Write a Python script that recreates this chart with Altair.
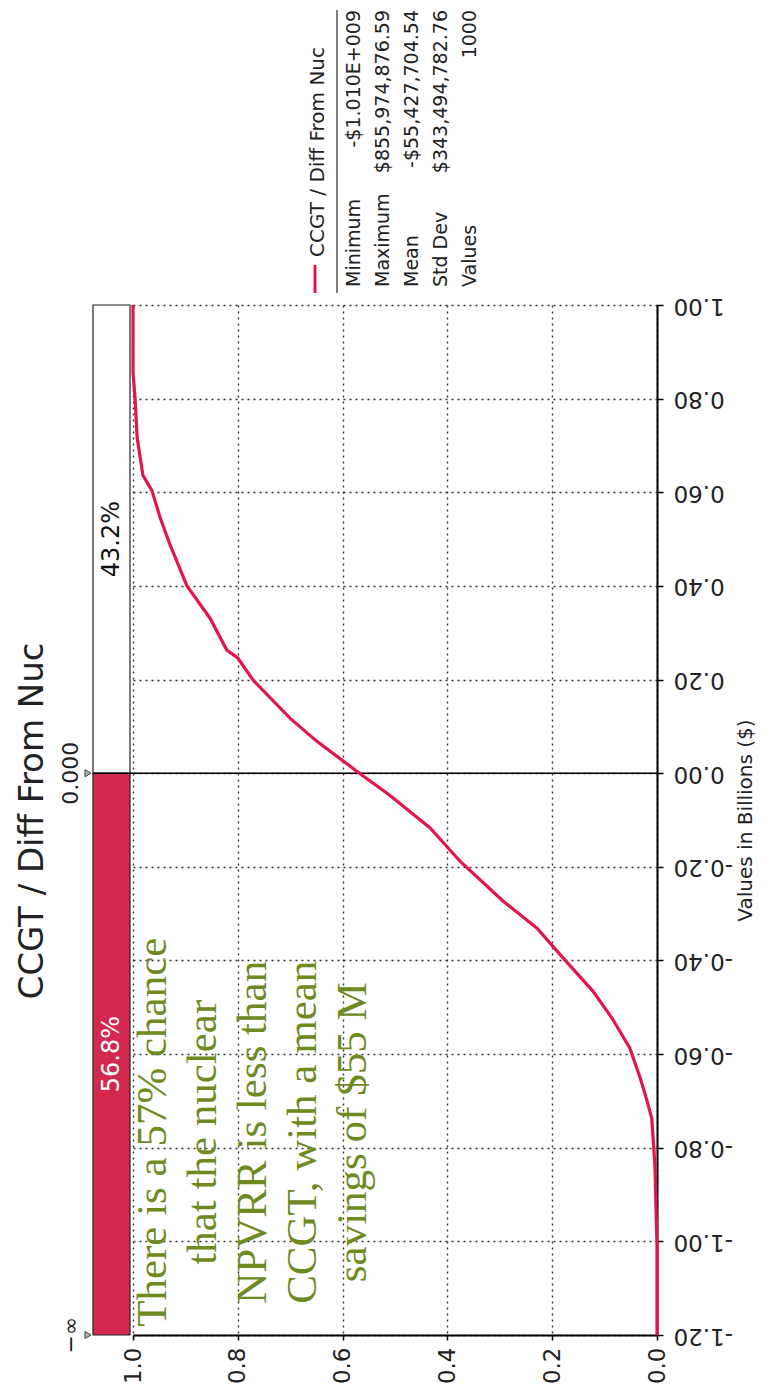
import altair as alt
import pandas as pd

# ---- data ----
# cumulative curve: value (billions $) and cumulative probability
cum_value = [-1.20, -1.01, -0.837, -0.737, -0.70, -0.651, -0.587, -0.523, -0.466,
             -0.395, -0.331, -0.273, -0.188, -0.117, -0.047, 0.0, 0.068, 0.117,
             0.199, 0.246, 0.263, 0.331, 0.40, 0.487, 0.545, 0.604, 0.636, 0.716,
             0.80, 0.856, 1.00]
cum_prob = [0.0, 0.0, 0.004, 0.010, 0.019, 0.032, 0.052, 0.086, 0.122,
            0.179, 0.229, 0.294, 0.376, 0.433, 0.51, 0.568, 0.649, 0.700,
            0.771, 0.80, 0.821, 0.853, 0.897, 0.929, 0.948, 0.964, 0.981, 0.992,
            0.996, 1.0, 1.0]

prob_ticks = [0.0, 0.2, 0.4, 0.6, 0.8, 1.0]
value_ticks = [-1.2, -1.0, -0.8, -0.6, -0.4, -0.2, 0.0, 0.2, 0.4, 0.6, 0.8, 1.0]

delim_lo = [-1.2, 0.0]
delim_hi = [0.0, 1.0]
delim_pct = ["56.8%", "43.2%"]
delim_fill = ["#d3284f", "#ffffff"]
delim_text_color = ["#ffffff", "#111111"]

marker_values = [-1.2, 0.0]
marker_labels = ["\u2212\u221e", "0.000"]

chart_title = "CCGT / Diff From Nuc"
axis_title = "Values in Billions ($)"
legend_name = "CCGT / Diff From Nuc"
stat_labels = ["Minimum", "Maximum", "Mean", "Std Dev", "Values"]
stat_values = ["-$1.010E+009", "$855,974,876.59", "-$55,427,704.54",
               "$343,494,782.76", "1000"]

note_lines = ["There is a 57% chance", "that the nuclear", "NPVRR is less than",
              "CCGT, with a mean", "savings of $55 M"]
note_prob = [0.962]
note_value = [-0.767]

LINE_RED = "#e3164b"
FONT = "DejaVu Sans"
W, H = 524, 1030

curve_df = pd.DataFrame({"value": cum_value, "prob": cum_prob})
delim_df = pd.DataFrame({"lo": delim_lo, "hi": delim_hi, "pct": delim_pct,
                         "fill": delim_fill, "tc": delim_text_color})
marker_df = pd.DataFrame({"v": marker_values, "lab": marker_labels})
zero_df = pd.DataFrame({"v": [0.0]})
one_df = pd.DataFrame({"k": [0]})
note_df = pd.DataFrame({"p": note_prob, "v": note_value})

xs = alt.Scale(domain=[0, 1], reverse=True, nice=False, zero=False)
ys = alt.Scale(domain=[-1.2, 1.0], nice=False, zero=False)

x_axis = alt.Axis(
    orient="bottom", values=prob_ticks, format=".1f", title="",
    labelAngle=270, labelAlign="right", labelBaseline="middle", labelPadding=7,
    labelFontSize=23, labelColor="#222", labelFont=FONT,
    tickSize=5, tickColor="black", tickWidth=1.5,
    domainColor="black", domainWidth=2,
    grid=True, gridColor="#333", gridDash=[2, 4], gridWidth=1.4)
y_axis = alt.Axis(
    orient="right", values=value_ticks,
    labelExpr="(datum.value < -0.0001 ? '-' : '') + format(abs(datum.value), '.2f')",
    labelAngle=180, labelAlign="right", labelBaseline="middle", labelPadding=10,
    labelFontSize=23, labelColor="#222", labelFont=FONT,
    tickSize=6, tickColor="black", tickWidth=1.5,
    domainColor="black", domainWidth=2,
    grid=True, gridColor="#333", gridDash=[2, 4], gridWidth=1.4,
    title=axis_title, titleAngle=270, titleBaseline="top", titlePadding=3,
    titleFontSize=20, titleFontWeight="normal", titleFont=FONT, titleColor="#222")


def Y(field):
    return alt.Y(field, scale=ys, axis=y_axis)


curve = alt.Chart(curve_df).mark_line(color=LINE_RED, strokeWidth=3.2).encode(
    x=alt.X("prob:Q", scale=xs, axis=x_axis),
    y=Y("value:Q"),
    order="value:Q")

zero_rule = alt.Chart(zero_df).mark_rule(color="black", strokeWidth=1.5).encode(
    y=Y("v:Q"), x=alt.value(-40), x2=alt.value(W))

delim_bars = alt.Chart(delim_df).mark_rect(stroke="#222", strokeWidth=1.2).encode(
    x=alt.value(-40), x2=alt.value(-3),
    y=Y("lo:Q"), y2="hi:Q",
    fill=alt.Fill("fill:N", scale=None))

delim_text = alt.Chart(delim_df).transform_calculate(
    mid="(datum.lo + datum.hi) / 2").mark_text(
    angle=270, align="center", baseline="middle", fontSize=24, font=FONT).encode(
    x=alt.value(-21), y=Y("mid:Q"),
    text="pct:N", color=alt.Color("tc:N", scale=None))

markers = alt.Chart(marker_df).mark_point(
    shape="triangle-right", size=50, filled=True, fill="#a9b8a6",
    stroke="#444", strokeWidth=1, opacity=1).encode(
    x=alt.value(-45), y=Y("v:Q"))

marker_text = alt.Chart(marker_df).mark_text(
    angle=270, align="center", baseline="middle", fontSize=22, font=FONT,
    color="#222").encode(
    x=alt.value(-62), y=Y("v:Q"), text="lab:N")

title_text = alt.Chart(one_df).mark_text(
    text=chart_title, angle=270, align="center", baseline="middle",
    fontSize=34, font=FONT, color="#222").encode(
    x=alt.value(-100), y=alt.value(516))

legend_marker = alt.Chart(one_df).mark_rule(color=LINE_RED, strokeWidth=3).encode(
    x=alt.value(182), y=alt.value(-40), y2=alt.value(-12))
legend_sep = alt.Chart(one_df).mark_rule(color="#555", strokeWidth=1.5).encode(
    x=alt.value(204), y=alt.value(-295), y2=alt.value(-12))
legend_name_text = alt.Chart(one_df).mark_text(
    text=legend_name, angle=270, align="left", baseline="middle",
    fontSize=20, font=FONT, color="#222").encode(
    x=alt.value(185), y=alt.value(-48))
stat_label_text = alt.Chart(one_df).mark_text(
    text=stat_labels, lineHeight=29, angle=270, align="left", baseline="middle",
    fontSize=19, font=FONT, color="#222").encode(
    x=alt.value(221), y=alt.value(-18))
stat_value_text = alt.Chart(one_df).mark_text(
    text=stat_values, lineHeight=29, angle=270, align="right", baseline="middle",
    fontSize=19, font=FONT, color="#222").encode(
    x=alt.value(221), y=alt.value(-295))

note = alt.Chart(note_df).mark_text(
    text=note_lines, lineHeight=50, angle=270, align="center", baseline="middle",
    fontSize=43, font="Liberation Serif", color="#6f8a1f").encode(
    x=alt.X("p:Q", scale=xs, axis=x_axis), y=Y("v:Q"))

chart = alt.layer(
    delim_bars, zero_rule, curve, delim_text, markers, marker_text, title_text,
    legend_marker, legend_sep, legend_name_text, stat_label_text,
    stat_value_text, note
).properties(
    width=W, height=H,
    padding={"left": 125, "top": 297, "right": 113, "bottom": 50},
    autosize=alt.AutoSizeParams(type="none"),
    background="white"
).configure_view(strokeWidth=0)

chart.save("out.html", embed_options={"renderer": "svg", "actions": False})
